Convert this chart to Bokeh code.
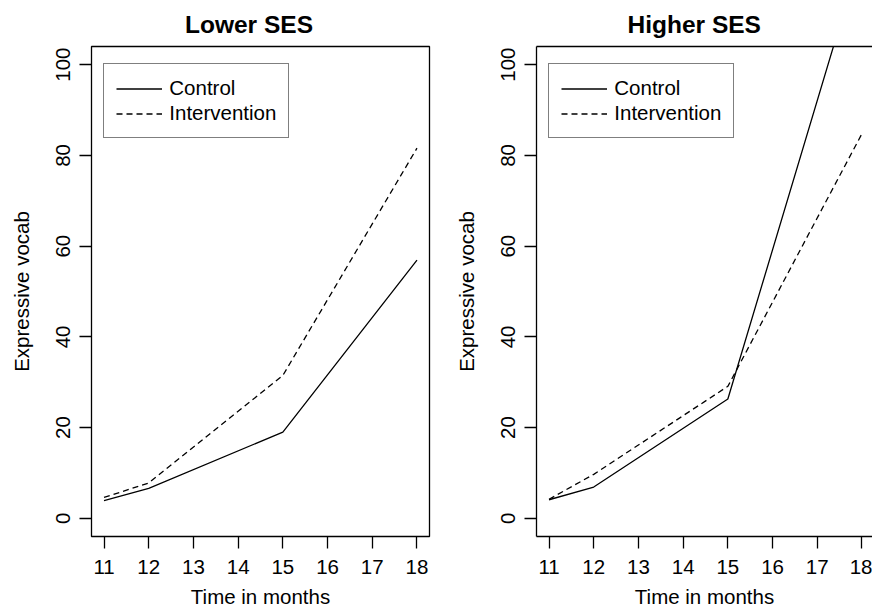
from bokeh.plotting import figure
from bokeh.models import FixedTicker, Range1d, Legend, LegendItem, LinearAxis
from bokeh.layouts import row
from bokeh.embed import file_html
from bokeh.resources import INLINE

# ---- data ----
months = [11, 12, 15, 18]
lower_control = [3.9, 6.6, 19.0, 56.9]
lower_intervention = [4.6, 7.8, 31.5, 81.6]
higher_control = [4.1, 6.9, 26.3, 125.0]
higher_intervention = [4.2, 9.7, 29.1, 84.8]
x_ticks = [11, 12, 13, 14, 15, 16, 17, 18]
y_ticks = [0, 20, 40, 60, 80, 100]
series_labels = ["Control", "Intervention"]
panel_titles = ["Lower SES", "Higher SES"]
x_label = "Time in months"
y_label = "Expressive vocab"

FONT = "Liberation Sans"
FS = "20.5px"
LW = 1.3
DASH = "6 4"
PX_PER_MONTH = 338 / 7.56


def make_panel(title, ctrl, interv, frame_w, border_r, title_off, boxed):
    x_end = 10.72 + frame_w / PX_PER_MONTH
    p = figure(
        frame_width=frame_w, frame_height=490,
        min_border_left=91, min_border_right=border_r,
        min_border_top=46, min_border_bottom=72,
        x_range=Range1d(10.72, x_end), y_range=Range1d(-4, 104),
        output_backend="svg", toolbar_location=None,
        background_fill_color="white", border_fill_color="white",
    )
    p.grid.visible = False
    p.title.text = title
    p.title.text_font = FONT
    p.title.text_font_size = "24.5px"
    p.title.text_font_style = "bold"
    p.title.text_color = "black"
    p.title.align = "left"
    p.title.offset = title_off
    p.title.standoff = 17

    for ax in (p.xaxis[0], p.yaxis[0]):
        ax.major_tick_out = 12
        ax.major_tick_in = 0
        ax.minor_tick_out = 0
        ax.minor_tick_in = 0
        ax.major_tick_line_color = "black"
        ax.major_tick_line_width = LW
        ax.major_label_text_font = FONT
        ax.major_label_text_font_size = FS
        ax.major_label_text_color = "black"
        ax.axis_label_text_font = FONT
        ax.axis_label_text_font_size = FS
        ax.axis_label_text_font_style = "normal"
        ax.axis_label_text_color = "black"
    p.xaxis.ticker = FixedTicker(ticks=x_ticks)
    p.yaxis.ticker = FixedTicker(ticks=y_ticks)
    p.xaxis.axis_label = x_label
    p.yaxis.axis_label = y_label
    p.yaxis.major_label_orientation = "vertical"
    p.xaxis.major_label_standoff = 11
    p.xaxis.axis_label_standoff = 8
    p.yaxis.major_label_standoff = 9
    p.yaxis.axis_label_standoff = 21

    if boxed:
        p.outline_line_color = "black"
        p.outline_line_width = LW
        p.outline_line_alpha = 1.0
        p.xaxis.axis_line_color = None
        p.yaxis.axis_line_color = None
    else:
        p.outline_line_color = None
        p.xaxis.axis_line_color = "black"
        p.xaxis.axis_line_width = LW
        p.yaxis.axis_line_color = "black"
        p.yaxis.axis_line_width = LW
        top = LinearAxis(ticker=FixedTicker(ticks=[]), major_tick_out=0, major_tick_in=0,
                         minor_tick_out=0, minor_tick_in=0, major_label_text_font_size="0px",
                         axis_line_color="black", axis_line_width=LW)
        p.add_layout(top, "above")

    r1 = p.line(months, ctrl, line_color="black", line_width=LW)
    r2 = p.line(months, interv, line_color="black", line_width=LW, line_dash=DASH)

    legend = Legend(
        items=[LegendItem(label=series_labels[0], renderers=[r1]),
               LegendItem(label=series_labels[1], renderers=[r2])],
        location=(12.3, 490 - 18.6 - 75 + 1.5),
        orientation="vertical",
        padding=12, spacing=1,
        glyph_width=46, glyph_height=23, label_height=23, label_standoff=7,
        label_text_font=FONT, label_text_font_size=FS, label_text_color="black",
        border_line_color="black", border_line_width=LW,
        background_fill_color="white", background_fill_alpha=1.0,
        margin=0,
    )
    p.add_layout(legend, "center")
    return p


p1 = make_panel(panel_titles[0], lower_control, lower_intervention, 338, 16, 93.5, True)
p2 = make_panel(panel_titles[1], higher_control, higher_intervention, 336, 0, 91, False)

layout = row(p1, p2)
open("out.html", "w").write(file_html(layout, INLINE))
